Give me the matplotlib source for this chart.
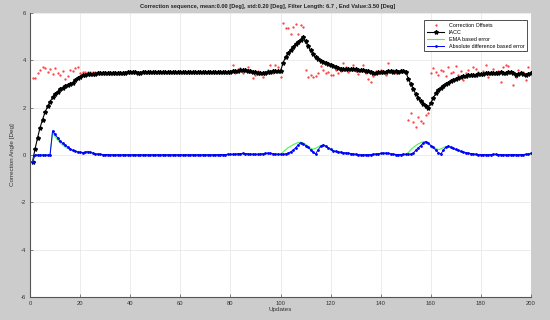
import numpy as np
import matplotlib
matplotlib.use('Agg')
import matplotlib.pyplot as plt

plt.rcParams['font.family'] = ['Liberation Sans', 'DejaVu Sans']
plt.rcParams['axes.unicode_minus'] = False

# values, one per update (1..200)
iacc = [
    -0.28, 0.25, 0.72, 1.15, 1.50, 1.80, 2.05, 2.25, 2.43, 2.58,
    2.68, 2.77, 2.85, 2.91, 2.95, 2.99, 3.06, 3.15, 3.24, 3.31,
    3.36, 3.39, 3.41, 3.42, 3.43, 3.44, 3.45, 3.45, 3.46, 3.46,
    3.47, 3.47, 3.47, 3.48, 3.48, 3.48, 3.48, 3.48, 3.49, 3.49,
    3.49, 3.49, 3.48, 3.48, 3.49, 3.49, 3.49, 3.50, 3.50, 3.50,
    3.50, 3.50, 3.50, 3.50, 3.50, 3.50, 3.50, 3.50, 3.50, 3.50,
    3.50, 3.50, 3.50, 3.50, 3.50, 3.50, 3.50, 3.50, 3.50, 3.50,
    3.50, 3.50, 3.50, 3.50, 3.51, 3.51, 3.51, 3.51, 3.52, 3.52,
    3.53, 3.55, 3.57, 3.58, 3.60, 3.59, 3.57, 3.54, 3.52, 3.50,
    3.48, 3.47, 3.47, 3.48, 3.50, 3.52, 3.54, 3.56, 3.57, 3.56,
    3.87, 4.15, 4.29, 4.43, 4.57, 4.68, 4.78, 4.88, 5.00, 4.80,
    4.60, 4.42, 4.25, 4.13, 4.05, 3.99, 3.93, 3.88, 3.84, 3.81,
    3.76, 3.71, 3.67, 3.65, 3.64, 3.64, 3.63, 3.64, 3.62, 3.62,
    3.60, 3.59, 3.58, 3.56, 3.53, 3.50, 3.48, 3.47, 3.49, 3.51,
    3.50, 3.52, 3.54, 3.53, 3.52, 3.53, 3.52, 3.53, 3.54, 3.52,
    3.22, 3.00, 2.78, 2.58, 2.42, 2.28, 2.17, 2.08, 2.00, 2.20,
    2.42, 2.60, 2.74, 2.84, 2.92, 2.99, 3.05, 3.11, 3.16, 3.20,
    3.25, 3.29, 3.32, 3.35, 3.37, 3.38, 3.39, 3.40, 3.42, 3.43,
    3.44, 3.46, 3.45, 3.47, 3.48, 3.46, 3.48, 3.50, 3.47, 3.45,
    3.50, 3.52, 3.48, 3.40, 3.43, 3.45, 3.42, 3.40, 3.43, 3.45,
]

offsets = [
    3.25, 3.24, 3.45, 3.60, 3.70, 3.68, 3.50, 3.62, 3.42, 3.66,
    3.45, 3.38, 3.55, 3.20, 3.35, 3.60, 3.55, 3.66, 3.73, 3.48,
    3.50, 3.50, 3.50, 3.50, 3.50, 3.50, 3.50, 3.50, 3.50, 3.50,
    3.50, 3.50, 3.50, 3.50, 3.50, 3.50, 3.50, 3.50, 3.50, 3.50,
    3.50, 3.50, 3.50, 3.50, 3.50, 3.50, 3.50, 3.50, 3.50, 3.50,
    3.50, 3.50, 3.50, 3.50, 3.50, 3.50, 3.50, 3.50, 3.50, 3.50,
    3.50, 3.50, 3.50, 3.50, 3.50, 3.50, 3.50, 3.50, 3.50, 3.50,
    3.50, 3.50, 3.50, 3.50, 3.50, 3.50, 3.50, 3.50, 3.50, 3.50,
    3.80, 3.45, 3.62, 3.66, 3.45, 3.55, 3.73, 3.52, 3.24, 3.40,
    3.55, 3.45, 3.28, 3.50, 3.60, 3.80, 3.45, 3.80, 3.70, 3.30,
    5.56, 5.35, 5.38, 5.10, 5.41, 5.53, 5.11, 5.50, 5.41, 3.60,
    3.28, 3.38, 3.30, 3.33, 3.45, 3.75, 3.58, 3.45, 3.50, 3.40,
    3.38, 3.60, 3.45, 3.55, 3.87, 3.70, 3.50, 3.62, 3.80, 3.55,
    3.42, 3.60, 3.80, 3.45, 3.20, 3.10, 3.35, 3.55, 3.45, 3.60,
    3.50, 3.40, 3.87, 3.50, 3.60, 3.45, 3.55, 3.50, 3.60, 3.50,
    1.48, 1.76, 1.40, 1.19, 1.60, 1.43, 1.34, 1.69, 1.76, 3.45,
    3.66, 3.52, 3.40, 3.60, 3.55, 3.35, 3.70, 3.45, 3.50, 3.75,
    3.40, 3.55, 3.19, 3.45, 3.60, 3.38, 3.73, 3.65, 3.50, 3.42,
    3.55, 3.80, 3.30, 3.50, 3.62, 3.45, 3.55, 3.09, 3.70, 3.80,
    3.75, 3.50, 2.95, 3.30, 3.60, 3.45, 3.50, 3.16, 3.73, 3.45,
]

ema_err = [
    -0.30, 0.00, 0.00, 0.00, 0.00, 0.00, 0.00, 0.00, 0.95, 0.78,
    0.64, 0.52, 0.42, 0.34, 0.28, 0.23, 0.19, 0.16, 0.14, 0.12,
    0.11, 0.12, 0.13, 0.12, 0.09, 0.06, 0.04, 0.03, 0.02, 0.02,
    0.02, 0.01, 0.01, 0.01, 0.01, 0.01, 0.01, 0.01, 0.01, 0.01,
    0.01, 0.01, 0.01, 0.01, 0.01, 0.01, 0.01, 0.01, 0.01, 0.01,
    0.01, 0.01, 0.01, 0.01, 0.01, 0.01, 0.01, 0.01, 0.01, 0.01,
    0.01, 0.01, 0.01, 0.01, 0.01, 0.01, 0.01, 0.01, 0.01, 0.01,
    0.01, 0.01, 0.01, 0.01, 0.01, 0.02, 0.02, 0.02, 0.02, 0.03,
    0.03, 0.04, 0.05, 0.05, 0.06, 0.06, 0.05, 0.04, 0.04, 0.03,
    0.03, 0.04, 0.05, 0.06, 0.07, 0.06, 0.05, 0.04, 0.04, 0.04,
    0.12, 0.22, 0.30, 0.37, 0.43, 0.48, 0.52, 0.54, 0.52, 0.45,
    0.37, 0.29, 0.24, 0.28, 0.34, 0.40, 0.42, 0.38, 0.32, 0.26,
    0.20, 0.16, 0.13, 0.11, 0.10, 0.08, 0.07, 0.05, 0.04, 0.03,
    0.02, 0.02, 0.01, 0.01, 0.01, 0.02, 0.03, 0.04, 0.05, 0.06,
    0.07, 0.07, 0.07, 0.05, 0.04, 0.03, 0.02, 0.02, 0.03, 0.03,
    0.10, 0.22, 0.32, 0.40, 0.47, 0.52, 0.56, 0.56, 0.48, 0.40,
    0.33, 0.27, 0.23, 0.26, 0.31, 0.35, 0.34, 0.30, 0.25, 0.21,
    0.17, 0.14, 0.11, 0.08, 0.06, 0.05, 0.04, 0.03, 0.02, 0.02,
    0.02, 0.02, 0.02, 0.02, 0.02, 0.02, 0.02, 0.02, 0.02, 0.02,
    0.02, 0.02, 0.02, 0.02, 0.02, 0.02, 0.02, 0.03, 0.04, 0.05,
]

abs_err = [
    -0.30, 0.00, 0.00, 0.00, 0.00, 0.00, 0.00, 0.00, 1.02, 0.87,
    0.73, 0.60, 0.50, 0.42, 0.34, 0.26, 0.20, 0.16, 0.13, 0.11,
    0.10, 0.12, 0.14, 0.12, 0.08, 0.05, 0.04, 0.03, 0.02, 0.02,
    0.02, 0.01, 0.01, 0.01, 0.01, 0.01, 0.01, 0.01, 0.01, 0.01,
    0.01, 0.01, 0.01, 0.01, 0.01, 0.01, 0.01, 0.01, 0.01, 0.01,
    0.01, 0.01, 0.01, 0.01, 0.01, 0.01, 0.01, 0.01, 0.01, 0.01,
    0.01, 0.01, 0.01, 0.01, 0.01, 0.01, 0.01, 0.01, 0.01, 0.01,
    0.01, 0.01, 0.01, 0.01, 0.02, 0.02, 0.02, 0.02, 0.03, 0.03,
    0.03, 0.04, 0.05, 0.06, 0.07, 0.06, 0.05, 0.04, 0.03, 0.03,
    0.03, 0.04, 0.05, 0.07, 0.08, 0.07, 0.05, 0.04, 0.03, 0.03,
    0.03, 0.05, 0.08, 0.13, 0.20, 0.30, 0.42, 0.52, 0.48, 0.40,
    0.33, 0.22, 0.12, 0.04, 0.22, 0.36, 0.43, 0.37, 0.30, 0.24,
    0.18, 0.15, 0.13, 0.12, 0.10, 0.09, 0.08, 0.06, 0.04, 0.03,
    0.02, 0.01, 0.01, 0.01, 0.01, 0.02, 0.03, 0.04, 0.05, 0.07,
    0.08, 0.08, 0.07, 0.05, 0.03, 0.02, 0.02, 0.02, 0.03, 0.03,
    0.03, 0.04, 0.08, 0.20, 0.30, 0.40, 0.50, 0.57, 0.50, 0.40,
    0.33, 0.20, 0.10, 0.04, 0.20, 0.33, 0.38, 0.33, 0.28, 0.24,
    0.20, 0.16, 0.13, 0.10, 0.08, 0.06, 0.04, 0.03, 0.02, 0.02,
    0.02, 0.01, 0.01, 0.02, 0.03, 0.03, 0.02, 0.02, 0.01, 0.01,
    0.01, 0.02, 0.02, 0.01, 0.01, 0.02, 0.02, 0.03, 0.04, 0.07,
]

updates = np.arange(1, len(iacc) + 1)

title = ('Correction sequence, mean:0.00 [Deg], std:0.20 [Deg], '
         'Filter Length: 6.7 , End Value:3.50 [Deg]')

fig = plt.figure(figsize=(5.5, 3.2), dpi=100, facecolor='#cccccc')
ax = fig.add_axes([30 / 550, 23 / 320, 501 / 550, 284 / 320])
ax.set_facecolor('white')

ax.plot(updates, offsets, '.', color='#ff3b3b', markersize=1.3,
        label='Correction Offsets')
ax.plot(updates, iacc, '-', color='black', linewidth=0.8, marker='*',
        markersize=3.0, label='IACC')
ax.plot(updates, ema_err, '-', color='#50f050', linewidth=0.8,
        label='EMA based error')
ax.plot(updates, abs_err, '-', color='#0000ff', linewidth=0.7, marker='.',
        markersize=2, label='Absolute difference based error')

ax.set_xlim(0, 200)
ax.set_ylim(-6, 6)
ax.set_xticks(np.arange(0, 201, 20))
ax.set_yticks(np.arange(-6, 7, 2))
ax.grid(True, color='#e4e4e4', linewidth=0.5)
ax.set_axisbelow(True)

for side in ['top', 'right']:
    ax.spines[side].set_visible(False)
for side in ['left', 'bottom']:
    ax.spines[side].set_color('#555555')
    ax.spines[side].set_linewidth(0.8)
ax.tick_params(direction='in', length=2.5, width=0.5, colors='#555555',
               labelsize=4.2, labelcolor='#333333', pad=3)

ax.set_xlabel('Updates', fontsize=4.5, color='#333333')
ax.set_ylabel('Correction Angle [Deg]', fontsize=4.5, color='#333333')
ax.xaxis.set_label_coords(0.5, -0.035)
ax.yaxis.set_label_coords(-0.03, 0.5)

fig.text(0.486, 0.981, title, ha='center', va='center', fontsize=4.05,
         fontweight='bold', color='#222222')

leg = ax.legend(loc='upper right', bbox_to_anchor=(0.992, 0.974),
                borderaxespad=0, fontsize=3.9, fancybox=False, framealpha=1,
                edgecolor='#333333', handlelength=3.2, labelspacing=0.35,
                borderpad=0.5)
leg.get_frame().set_linewidth(0.6)

fig.savefig('out.png', dpi=100, facecolor=fig.get_facecolor())
